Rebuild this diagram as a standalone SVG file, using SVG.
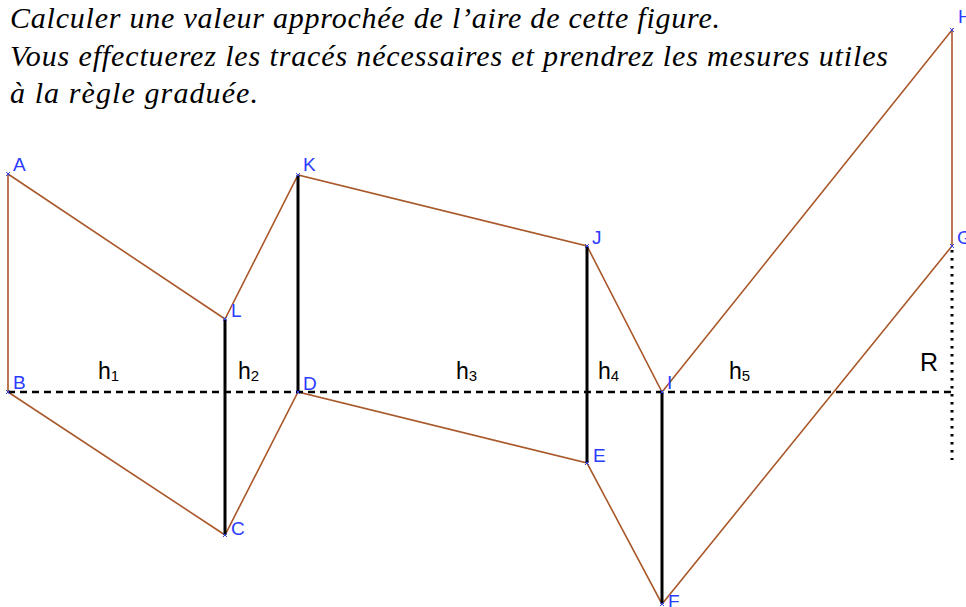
<svg xmlns="http://www.w3.org/2000/svg" width="966" height="607" viewBox="0 0 966 607">
<style>
.t{font-size:30px;fill:#000}
.p{font-family:'Liberation Sans',Arial,sans-serif;font-size:19px;fill:#2b3bff}
.h{font-family:'Liberation Sans',Arial,sans-serif;font-size:23px;fill:#000}
.s{font-size:15px}
.edge{stroke:#a9582a;stroke-width:1.6;fill:none}
.blk{stroke:#000;stroke-width:3;fill:none}
.dash{stroke:#000;stroke-width:2.5;stroke-dasharray:7,5;fill:none}
.dot{stroke:#000;stroke-width:3;stroke-dasharray:2.5,5.5;fill:none}
.mk{stroke:#3344dd;stroke-width:1}
</style>
<rect width="966" height="607" fill="#fff"/>
<g id="title" font-family="Liberation Serif, DejaVu Serif, Noto Serif, serif" font-style="italic">
<text class="t" x="10" y="28" textLength="710" lengthAdjust="spacing">Calculer une valeur approchée de l’aire de cette figure.</text>
<text class="t" x="10" y="66" textLength="878" lengthAdjust="spacing">Vous effectuerez les tracés nécessaires et prendrez les mesures utiles</text>
<text class="t" x="10" y="103" textLength="248" lengthAdjust="spacing">à la règle graduée.</text>
</g>
<g id="connectors">
<polygon class="edge" points="8,174 225,319 298,175 587,246 662,392 952,30 952,246 662,604 587,463 298,392 225,535 8,392"/>
<line class="blk" x1="225" y1="319" x2="225" y2="535"/>
<line class="blk" x1="298" y1="175" x2="298" y2="392"/>
<line class="blk" x1="587" y1="246" x2="587" y2="463"/>
<line class="blk" x1="662" y1="392" x2="662" y2="604"/>
<line class="dash" x1="8" y1="392" x2="952" y2="392"/>
<line class="dot" x1="952" y1="250" x2="952" y2="460"/>
</g>
<g id="markers">
<path class="mk" d="M6,172l4,4M10,172l-4,4 M223,317l4,4M227,317l-4,4 M296,173l4,4M300,173l-4,4 M585,244l4,4M589,244l-4,4 M660,390l4,4M664,390l-4,4 M950,28l4,4M954,28l-4,4 M950,244l4,4M954,244l-4,4 M660,602l4,4M664,602l-4,4 M585,461l4,4M589,461l-4,4 M296,390l4,4M300,390l-4,4 M223,533l4,4M227,533l-4,4 M6,390l4,4M10,390l-4,4"/>
</g>
<g id="node-A"><text class="p" x="13" y="171">A</text></g>
<g id="node-B"><text class="p" x="13" y="389">B</text></g>
<g id="node-C"><text class="p" x="231" y="535">C</text></g>
<g id="node-D"><text class="p" x="303" y="390">D</text></g>
<g id="node-E"><text class="p" x="593" y="462">E</text></g>
<g id="node-F"><text class="p" x="668" y="608">F</text></g>
<g id="node-G"><text class="p" x="957" y="244">G</text></g>
<g id="node-H"><text class="p" x="958" y="23">H</text></g>
<g id="node-I"><text class="p" x="667" y="389">I</text></g>
<g id="node-J"><text class="p" x="592" y="244">J</text></g>
<g id="node-K"><text class="p" x="303" y="171">K</text></g>
<g id="node-L"><text class="p" x="231" y="317">L</text></g>
<g id="labels">
<text class="h" x="98" y="379">h<tspan class="s" dy="2">1</tspan></text>
<text class="h" x="238" y="379">h<tspan class="s" dy="2">2</tspan></text>
<text class="h" x="456" y="379">h<tspan class="s" dy="2">3</tspan></text>
<text class="h" x="598" y="379">h<tspan class="s" dy="2">4</tspan></text>
<text class="h" x="729" y="379">h<tspan class="s" dy="2">5</tspan></text>
<text class="h" x="920" y="371" style="font-size:25px">R</text>
</g>
</svg>
